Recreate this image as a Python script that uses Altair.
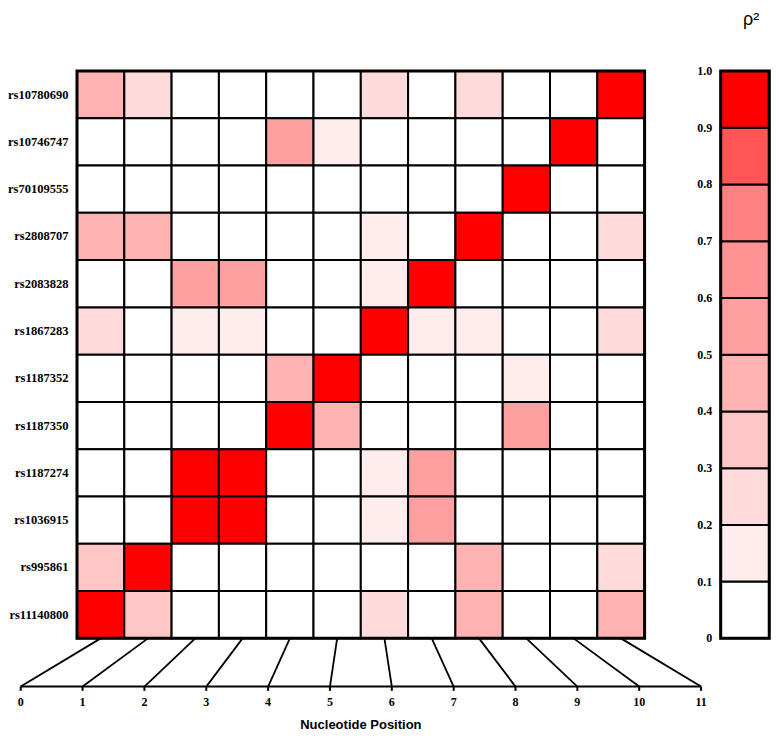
import altair as alt
import pandas as pd

# ---------------- data ----------------
snps = ["rs10780690", "rs10746747", "rs70109555", "rs2808707", "rs2083828",
        "rs1867283", "rs1187352", "rs1187350", "rs1187274", "rs1036915",
        "rs995861", "rs11140800"]

# rho^2 per SNP (rows, top to bottom) at nucleotide positions 0..11 (columns)
ld_rows = [
    [0.45, 0.25, 0, 0, 0, 0, 0.25, 0, 0.25, 0, 0, 1.0],
    [0, 0, 0, 0, 0.55, 0.15, 0, 0, 0, 0, 1.0, 0],
    [0, 0, 0, 0, 0, 0, 0, 0, 0, 1.0, 0, 0],
    [0.45, 0.45, 0, 0, 0, 0, 0.15, 0, 1.0, 0, 0, 0.25],
    [0, 0, 0.55, 0.55, 0, 0, 0.15, 1.0, 0, 0, 0, 0],
    [0.25, 0, 0.15, 0.15, 0, 0, 1.0, 0.15, 0.15, 0, 0, 0.25],
    [0, 0, 0, 0, 0.45, 1.0, 0, 0, 0, 0.15, 0, 0],
    [0, 0, 0, 0, 1.0, 0.45, 0, 0, 0, 0.55, 0, 0],
    [0, 0, 1.0, 1.0, 0, 0, 0.15, 0.55, 0, 0, 0, 0],
    [0, 0, 1.0, 1.0, 0, 0, 0.15, 0.55, 0, 0, 0, 0],
    [0.35, 1.0, 0, 0, 0, 0, 0, 0, 0.45, 0, 0, 0.25],
    [1.0, 0.35, 0, 0, 0, 0, 0.25, 0, 0.45, 0, 0, 0.45],
]

positions = list(range(12))

bin_edges = [0.0, 0.1, 0.2, 0.3, 0.4, 0.5, 0.6, 0.7, 0.8, 0.9, 1.0]
bin_labels = ["0", "0.1", "0.2", "0.3", "0.4", "0.5", "0.6", "0.7", "0.8", "0.9", "1.0"]
bin_colors = ["#FFFFFF", "#FFEDED", "#FFDADA", "#FFC6C6", "#FFB3B3",
              "#FFA0A0", "#FF9393", "#FF8080", "#FF5555", "#FF0000"]

# ---------------- layout (in cell units) ----------------
W, H = 763, 725
CELL_W, CELL_H = 47.3, 47.28
X0_PX, Y0_PX = 69.0, 63.0          # heatmap origin inside chart
X_DOMAIN = [-X0_PX / CELL_W, (W - X0_PX) / CELL_W]
Y_DOMAIN = [-Y0_PX / CELL_H, (H - Y0_PX) / CELL_H]

N = len(snps)
POS0 = -1.19
POS_STEP = 1.3076
AXIS_Y = 13.02
TICK_LEN = 0.09
POS_LABEL_Y = 13.35
TITLE_Y = 13.83
ROW_LABEL_X = -0.18
CB_X0, CB_X1 = 13.609, 14.635
CB_LABEL_X = 13.43
RHO_X, RHO_Y = 14.25, -1.08

xs = alt.Scale(domain=X_DOMAIN, nice=False, zero=False)
ys = alt.Scale(domain=Y_DOMAIN, nice=False, zero=False, reverse=True)
thr = alt.Scale(type="threshold", domain=bin_edges[1:-1], range=bin_colors)

# ---------------- tables ----------------
cells = pd.DataFrame([
    {"snp": s, "row": i, "col": j, "v": ld_rows[i][j]}
    for i, s in enumerate(snps) for j in positions
])
rows_df = pd.DataFrame({"snp": snps, "row": list(range(N))})
pos_df = pd.DataFrame({"col": positions, "pos": positions})
bins_df = pd.DataFrame({"lo": bin_edges[:-1], "hi": bin_edges[1:]})
edges_df = pd.DataFrame({"edge": bin_edges, "label": bin_labels})
one = pd.DataFrame({"k": [0]})


def X(f):
    return alt.X(f, type="quantitative", scale=xs, axis=None)


def Y(f):
    return alt.Y(f, type="quantitative", scale=ys, axis=None)


heat = alt.Chart(cells).transform_calculate(
    c1="datum.col + 1", r1="datum.row + 1"
).mark_rect(stroke="#000000", strokeWidth=2).encode(
    x=X("col"), x2="c1:Q", y=Y("row"), y2="r1:Q",
    fill=alt.Fill("v:Q", scale=thr, legend=None),
)

frame = alt.Chart(one).transform_calculate(
    a="0", b=f"{N}"
).mark_rect(fillOpacity=0, stroke="#000000", strokeWidth=3).encode(
    x=X("a"), x2="b:Q", y=Y("a"), y2="b:Q"
)

row_labels = alt.Chart(rows_df).transform_calculate(
    yc="datum.row + 0.5", xl=f"{ROW_LABEL_X}"
).mark_text(align="right", baseline="middle", font="Liberation Serif",
            fontWeight="bold", fontSize=12.5, color="#000000").encode(
    x=X("xl"), y=Y("yc"), text="snp:N"
)

connectors = alt.Chart(pos_df).transform_calculate(
    xt="datum.col + 0.5", xb=f"{POS0} + {POS_STEP} * datum.pos",
    yt=f"{N}", yb=f"{AXIS_Y}"
).mark_rule(color="#000000", strokeWidth=1.8).encode(
    x=X("xt"), x2="xb:Q", y=Y("yt"), y2="yb:Q"
)

axis_line = alt.Chart(pos_df).transform_aggregate(
    pmin="min(pos)", pmax="max(pos)"
).transform_calculate(
    xa=f"{POS0} + {POS_STEP} * datum.pmin", xb=f"{POS0} + {POS_STEP} * datum.pmax",
    ya=f"{AXIS_Y}"
).mark_rule(color="#000000", strokeWidth=2).encode(
    x=X("xa"), x2="xb:Q", y=Y("ya")
)

ticks = alt.Chart(pos_df).transform_calculate(
    xp=f"{POS0} + {POS_STEP} * datum.pos", ya=f"{AXIS_Y}", yb=f"{AXIS_Y + TICK_LEN}"
).mark_rule(color="#000000", strokeWidth=2).encode(
    x=X("xp"), y=Y("ya"), y2="yb:Q"
)

tick_labels = alt.Chart(pos_df).transform_calculate(
    xp=f"{POS0} + {POS_STEP} * datum.pos", yl=f"{POS_LABEL_Y}"
).mark_text(align="center", baseline="middle", font="Liberation Serif",
            fontWeight="bold", fontSize=12, color="#000000").encode(
    x=X("xp"), y=Y("yl"), text="pos:N"
)

axis_title = alt.Chart(pos_df).transform_aggregate(
    pmin="min(pos)", pmax="max(pos)"
).transform_calculate(
    xm=f"{POS0} + {POS_STEP} * (datum.pmin + datum.pmax) / 2", yt=f"{TITLE_Y}",
    t="'Nucleotide Position'"
).mark_text(align="center", baseline="middle", font="Liberation Sans",
            fontWeight="bold", fontSize=13, color="#000000").encode(
    x=X("xm"), y=Y("yt"), text="t:N"
)

cbar = alt.Chart(bins_df).transform_calculate(
    y0=f"{N} * (1 - datum.hi)", y1=f"{N} * (1 - datum.lo)",
    v="(datum.lo + datum.hi) / 2", xa=f"{CB_X0}", xb=f"{CB_X1}"
).mark_rect(stroke="#000000", strokeWidth=2).encode(
    x=X("xa"), x2="xb:Q", y=Y("y0"), y2="y1:Q",
    fill=alt.Fill("v:Q", scale=thr, legend=None),
)

cbar_frame = alt.Chart(one).transform_calculate(
    xa=f"{CB_X0}", xb=f"{CB_X1}", ya="0", yb=f"{N}"
).mark_rect(fillOpacity=0, stroke="#000000", strokeWidth=3).encode(
    x=X("xa"), x2="xb:Q", y=Y("ya"), y2="yb:Q"
)

cbar_labels = alt.Chart(edges_df).transform_calculate(
    ye=f"{N} * (1 - datum.edge)", xl=f"{CB_LABEL_X}"
).mark_text(align="right", baseline="middle", font="Liberation Serif",
            fontWeight="bold", fontSize=12, color="#000000").encode(
    x=X("xl"), y=Y("ye"), text="label:N"
)

rho = alt.Chart(one).transform_calculate(
    xr=f"{RHO_X}", yr=f"{RHO_Y}", t="'ρ²'"
).mark_text(align="center", baseline="middle", font="Liberation Sans",
            fontSize=18, color="#000000").encode(
    x=X("xr"), y=Y("yr"), text="t:N"
)

chart = alt.layer(
    heat, frame, row_labels, connectors, axis_line, ticks, tick_labels, axis_title,
    cbar, cbar_frame, cbar_labels, rho
).properties(
    width=W, height=H, padding=0, autosize=alt.AutoSizeParams(type="none"),
    background="white"
).configure_view(stroke=None)

chart.save("out.html", embed_options={"renderer": "svg", "actions": False})
